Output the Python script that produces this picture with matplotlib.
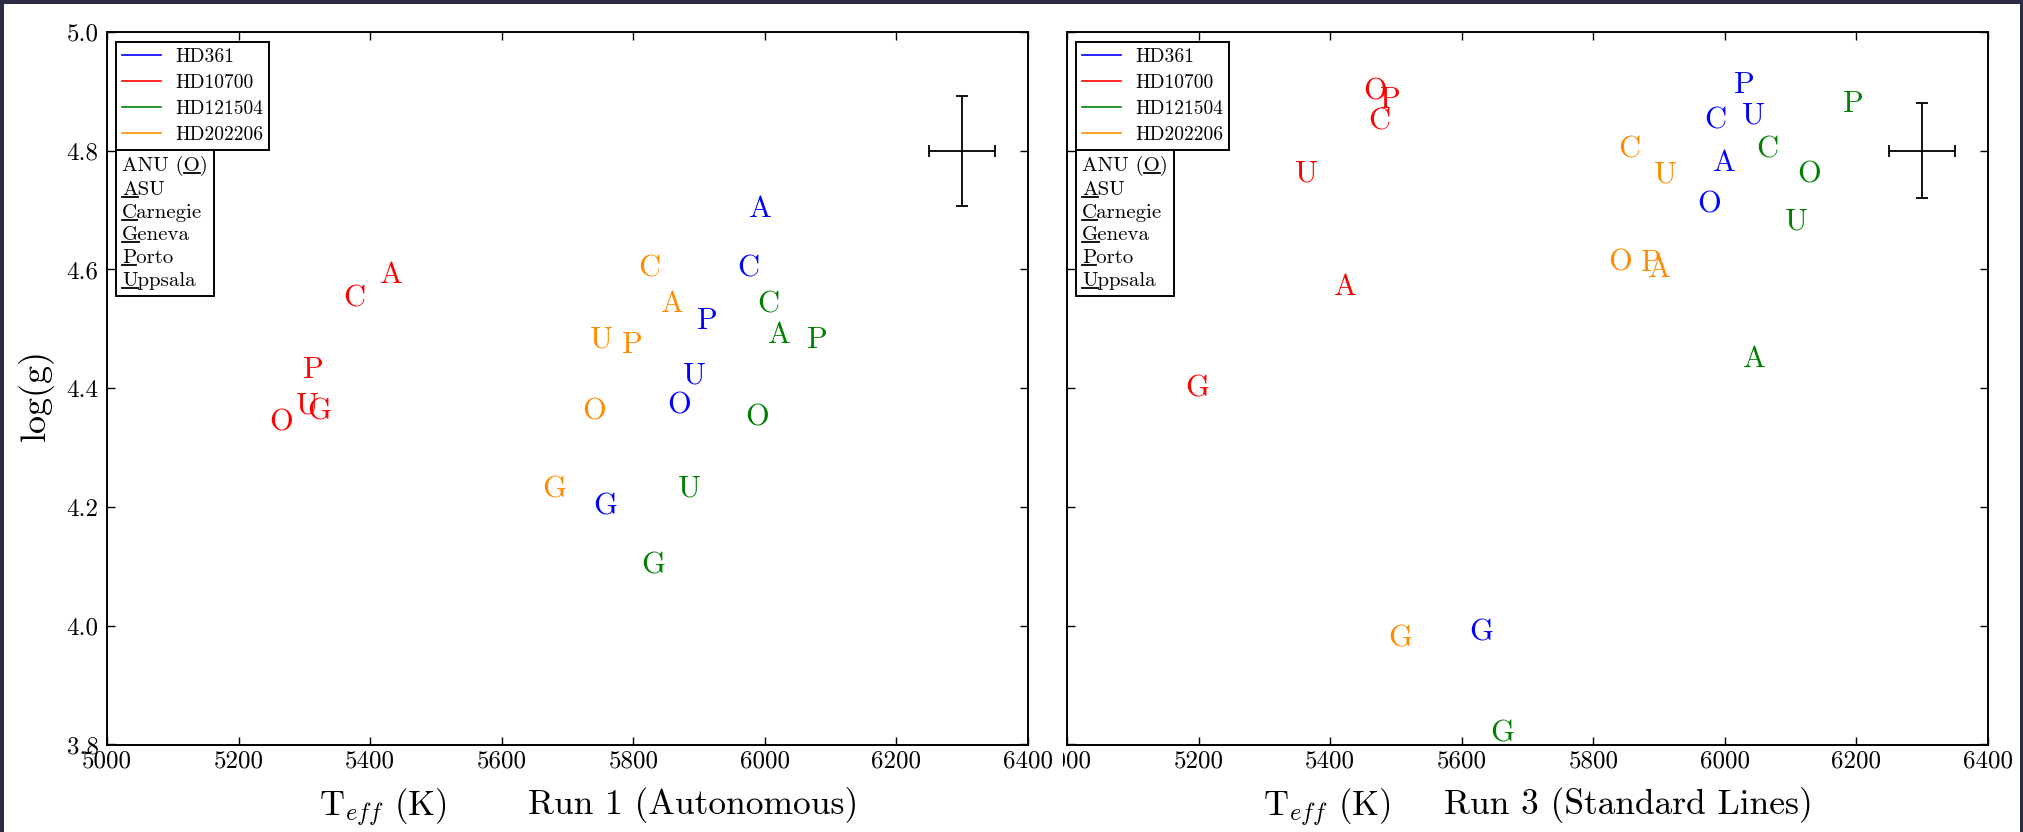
import matplotlib
matplotlib.use("Agg")
import matplotlib.pyplot as plt
from matplotlib.lines import Line2D
from matplotlib.patches import Rectangle
from matplotlib.transforms import Bbox, IdentityTransform

plt.rcParams["font.family"] = "serif"
plt.rcParams["font.serif"] = ["cmr10", "DejaVu Serif"]
plt.rcParams["mathtext.fontset"] = "cm"
plt.rcParams["axes.unicode_minus"] = False

# institutes, in the order used by every row below
INSTITUTES = ["O", "A", "C", "G", "P", "U"]
INSTITUTE_NAMES = ["ANU (O)", "ASU", "Carnegie", "Geneva", "Porto", "Uppsala"]
UNDERLINE_AT = [5, 0, 0, 0, 0, 0]  # index of the underlined character

STARS = ["HD361", "HD10700", "HD121504", "HD202206"]
STAR_COLORS = ["#0000ff", "#ff0000", "#008000", "#ff8c00"]

# Run 1 (Autonomous): rows = stars, cols = institutes O A C G P U
run1_teff = [
    [5869, 5993, 5975, 5758, 5912, 5893],
    [5264, 5433, 5376, 5322, 5314, 5305],
    [5988, 6022, 6006, 5831, 6080, 5886],
    [5740, 5860, 5825, 5680, 5799, 5751],
]
run1_logg = [
    [4.376, 4.706, 4.606, 4.206, 4.517, 4.426],
    [4.347, 4.596, 4.555, 4.366, 4.436, 4.376],
    [4.355, 4.495, 4.546, 4.106, 4.486, 4.236],
    [4.366, 4.546, 4.606, 4.234, 4.478, 4.486],
]

# Run 3 (Standard Lines)
run3_teff = [
    [5976, 6000, 5985, 5630, 6029, 6043],
    [5469, 5424, 5475, 5198, 5492, 5364],
    [6128, 6045, 6064, 5662, 6196, 6109],
    [5841, 5901, 5855, 5506, 5889, 5910],
]
run3_logg = [
    [4.714, 4.784, 4.855, 3.994, 4.915, 4.864],
    [4.905, 4.575, 4.853, 4.404, 4.890, 4.766],
    [4.765, 4.454, 4.806, 3.823, 4.884, 4.685],
    [4.616, 4.605, 4.806, 3.983, 4.616, 4.765],
]

RUN_TITLES = ["Run 1 (Autonomous)", "Run 3 (Standard Lines)"]

# typical uncertainty cross
ERR_POS = (6300, 4.8)
ERR_TEFF = [50, 50]
ERR_LOGG = [0.093, 0.08]

XTICKS = [5000, 5200, 5400, 5600, 5800, 6000, 6200, 6400]
YTICKS = [3.8, 4.0, 4.2, 4.4, 4.6, 4.8, 5.0]

W, H = 2023, 832
fig = plt.figure(figsize=(W / 100, H / 100), dpi=100)
fig.patch.set_facecolor("#2c2c46")
fig.add_artist(Rectangle((4 / W, 0), 2016 / W, 828 / H, transform=fig.transFigure,
                         facecolor="white", edgecolor="none", zorder=-10))

ax_w, ax_h, ax_b = 921 / W, 712.5 / H, 87.5 / H
ax1 = fig.add_axes([107 / W, ax_b, ax_w, ax_h])
ax2 = fig.add_axes([1067 / W, ax_b, ax_w, ax_h])

label_pos = [(0.2997, 0.6363), (0.2823, 0.6098)]


def draw_panel(ax, teff, logg, k):
    for si, color in enumerate(STAR_COLORS):
        for ii, letter in enumerate(INSTITUTES):
            ax.text(teff[si][ii], logg[si][ii], letter, color=color, fontsize=22,
                    ha="center", va="center_baseline")
    ax.errorbar(ERR_POS[0], ERR_POS[1], xerr=ERR_TEFF[k], yerr=ERR_LOGG[k], fmt="none",
                ecolor="k", elinewidth=1.3, capsize=4.5, capthick=1.3)

    ax.set_xlim(5000, 6400)
    ax.set_ylim(3.8, 5.0)
    ax.set_xticks(XTICKS)
    ax.set_xticklabels([str(t) for t in XTICKS], fontsize=18)
    ax.set_yticks(YTICKS)
    ax.set_yticklabels(["%.1f" % t for t in YTICKS], fontsize=18)
    ax.tick_params(direction="in", top=True, right=True, length=6, width=1)
    ax.tick_params(axis="x", pad=4)
    ax.tick_params(axis="y", pad=6)
    for sp in ax.spines.values():
        sp.set_linewidth(1.4)

    ax.set_xlabel(r"T$_{eff}$ (K)", fontsize=25)
    ax.xaxis.set_label_coords(label_pos[k][0], -0.0596)
    ax.text(label_pos[k][1], -0.0596, RUN_TITLES[k], transform=ax.transAxes,
            fontsize=25.5, ha="center", va="top")

    handles = [Line2D([], [], color=c, lw=1.2) for c in STAR_COLORS]
    leg = ax.legend(handles, STARS, loc="upper left", bbox_to_anchor=(0.0098, 0.986),
                    borderaxespad=0, fontsize=14, handlelength=2.0, handletextpad=0.75,
                    labelspacing=0.42, borderpad=0.3, fancybox=False, framealpha=1)
    leg.get_frame().set_edgecolor("k")
    leg.get_frame().set_linewidth(1.4)
    ax.add_artist(leg)
    return leg


legs = [draw_panel(ax1, run1_teff, run1_logg, 0),
        draw_panel(ax2, run3_teff, run3_logg, 1)]

ax1.set_ylabel("log(g)", fontsize=26)
ax1.yaxis.set_label_coords(-0.0575, 0.49)
ax2.tick_params(labelleft=False)

fig.canvas.draw()
renderer = fig.canvas.get_renderer()

# institute key box sits right under the star legend
keys = []
for ax, leg in zip([ax1, ax2], legs):
    bb = leg.get_window_extent(renderer)
    x0, y0 = ax.transAxes.inverted().transform((bb.x0, bb.y0))
    blanks = [Line2D([], [], alpha=0) for _ in INSTITUTE_NAMES]
    key = ax.legend(blanks, INSTITUTE_NAMES, loc="upper left", bbox_to_anchor=(x0, y0),
                    borderaxespad=0, fontsize=15, handlelength=0, handletextpad=0,
                    labelspacing=0.2, borderpad=0.3, fancybox=False, framealpha=1)
    key.get_frame().set_edgecolor("k")
    key.get_frame().set_linewidth(1.4)
    keys.append(key)

fig.canvas.draw()
renderer = fig.canvas.get_renderer()

# underline the letter used as plot symbol
for key in keys:
    for txt, name, pos in zip(key.get_texts(), INSTITUTE_NAMES, UNDERLINE_AT):
        prop = txt.get_fontproperties()
        bb = txt.get_window_extent(renderer)
        _, _, d_lp = renderer.get_text_width_height_descent("lp", prop, ismath=False)
        _, _, d_s = renderer.get_text_width_height_descent(name, prop, ismath=False)
        base = bb.y0 + max(d_lp, d_s)
        xa = renderer.get_text_width_height_descent(name[:pos], prop, ismath=False)[0] if pos else 0
        xb = renderer.get_text_width_height_descent(name[:pos + 1], prop, ismath=False)[0]
        fig.add_artist(Line2D([bb.x0 + xa, bb.x0 + xb], [base - 2, base - 2],
                              transform=IdentityTransform(), color="k", lw=1.3))

# the second panel's first tick label is hidden behind the first panel
clip = Bbox.from_extents(1063, 0, W, H)
for lbl in ax2.get_xticklabels():
    lbl.set_clip_box(clip)
    lbl.set_clip_on(True)

fig.savefig("out.png", dpi=100, facecolor=fig.get_facecolor())
